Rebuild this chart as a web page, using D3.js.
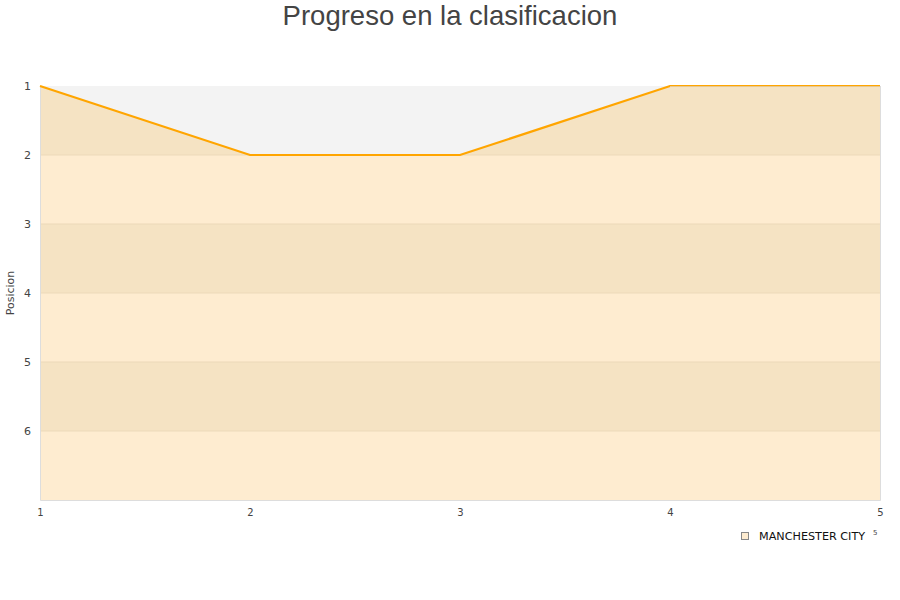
<!DOCTYPE html>
<html><head><meta charset="utf-8">
<script src="https://cdn.jsdelivr.net/npm/d3@7"></script>
<style>body{margin:0;background:#fff}svg{display:block}</style>
</head><body>
<svg id="c" width="900" height="600"></svg>
<script>
const matchdays = [1, 2, 3, 4, 5];
const positions = [1, 2, 2, 1, 1];
const yTicks = [1, 2, 3, 4, 5, 6];
const teamName = "MANCHESTER CITY";
const title = "Progreso en la clasificacion";
const yLabel = "Posicion";

const svg = d3.select("#c");
const m = {l: 40, r: 880, t: 86, b: 500};
const x = d3.scaleLinear().domain([1, 5]).range([m.l, m.r]);
const y = d3.scaleLinear().domain([1, 7]).range([m.t, m.b]);

svg.append("text").attr("x", 450).attr("y", 25).attr("text-anchor", "middle")
  .attr("font-family", "Liberation Sans, Arial, sans-serif").attr("font-size", 27.5)
  .attr("fill", "#444").text(title);

svg.append("rect").attr("x", m.l).attr("y", m.t).attr("width", m.r - m.l).attr("height", m.b - m.t)
  .attr("fill", "#f3f3f3");

const defs = svg.append("defs");
const area = d3.area().x((d, i) => x(matchdays[i])).y0(y(7)).y1(d => y(d));
defs.append("clipPath").attr("id", "ac").append("path").attr("d", area(positions));

const bands = d3.range(1, 7);
const g = svg.append("g").attr("clip-path", "url(#ac)");
g.selectAll("rect").data(bands).join("rect")
  .attr("x", m.l).attr("width", m.r - m.l)
  .attr("y", d => y(d)).attr("height", d => y(d + 1) - y(d))
  .attr("fill", d => d % 2 === 1 ? "#f5e3c3" : "#feecd0");

svg.append("g").selectAll("line").data(yTicks.slice(1)).join("line")
  .attr("x1", m.l).attr("x2", m.r).attr("y1", d => y(d)).attr("y2", d => y(d))
  .attr("stroke", "#ecd9b9").attr("stroke-width", 1);

// frame
svg.append("path").attr("d", `M${m.l + 0.5},${m.t}V${m.b + 0.5}H${m.r + 0.5}V${m.t}`)
  .attr("fill", "none").attr("stroke", "#ddd");

const line = d3.line().x((d, i) => x(matchdays[i])).y(d => y(d));
svg.append("path").attr("d", line(positions)).attr("fill", "none")
  .attr("stroke", "#ffa500").attr("stroke-width", 2.2);

svg.append("line").attr("x1", x(4)).attr("x2", m.r).attr("y1", m.t + 0.5).attr("y2", m.t + 0.5)
  .attr("stroke", "#e8c890").attr("stroke-width", 1);

const yAxis = svg.append("g").attr("transform", `translate(${m.l},0)`)
  .call(d3.axisLeft(y).tickValues(yTicks).tickSize(0).tickPadding(9).tickFormat(d3.format("d")));
yAxis.select(".domain").remove();
yAxis.selectAll("text").attr("font-family", "DejaVu Sans, sans-serif").attr("font-size", 11).attr("fill", "#444");

const xAxis = svg.append("g").attr("transform", `translate(0,${m.b})`)
  .call(d3.axisBottom(x).tickValues(matchdays).tickSize(0).tickPadding(9).tickFormat(d3.format("d")));
xAxis.select(".domain").remove();
xAxis.selectAll("text").attr("font-family", "DejaVu Sans, sans-serif").attr("font-size", 10).attr("fill", "#444");

svg.append("text").attr("transform", "translate(14,293) rotate(-90)").attr("text-anchor", "middle")
  .attr("font-family", "DejaVu Sans, sans-serif").attr("font-size", 11).attr("fill", "#444").text(yLabel);

// legend
svg.append("rect").attr("x", 741.5).attr("y", 532.5).attr("width", 7).attr("height", 7)
  .attr("fill", "#feecd0").attr("stroke", "#888");
svg.append("text").attr("x", 759).attr("y", 540)
  .attr("font-family", "DejaVu Sans, sans-serif").attr("font-size", 11.2).attr("fill", "#111").text(teamName);
svg.append("text").attr("x", 873).attr("y", 535)
  .attr("font-family", "DejaVu Sans, sans-serif").attr("font-size", 7).attr("fill", "#444").text("5");
</script>
</body></html>
